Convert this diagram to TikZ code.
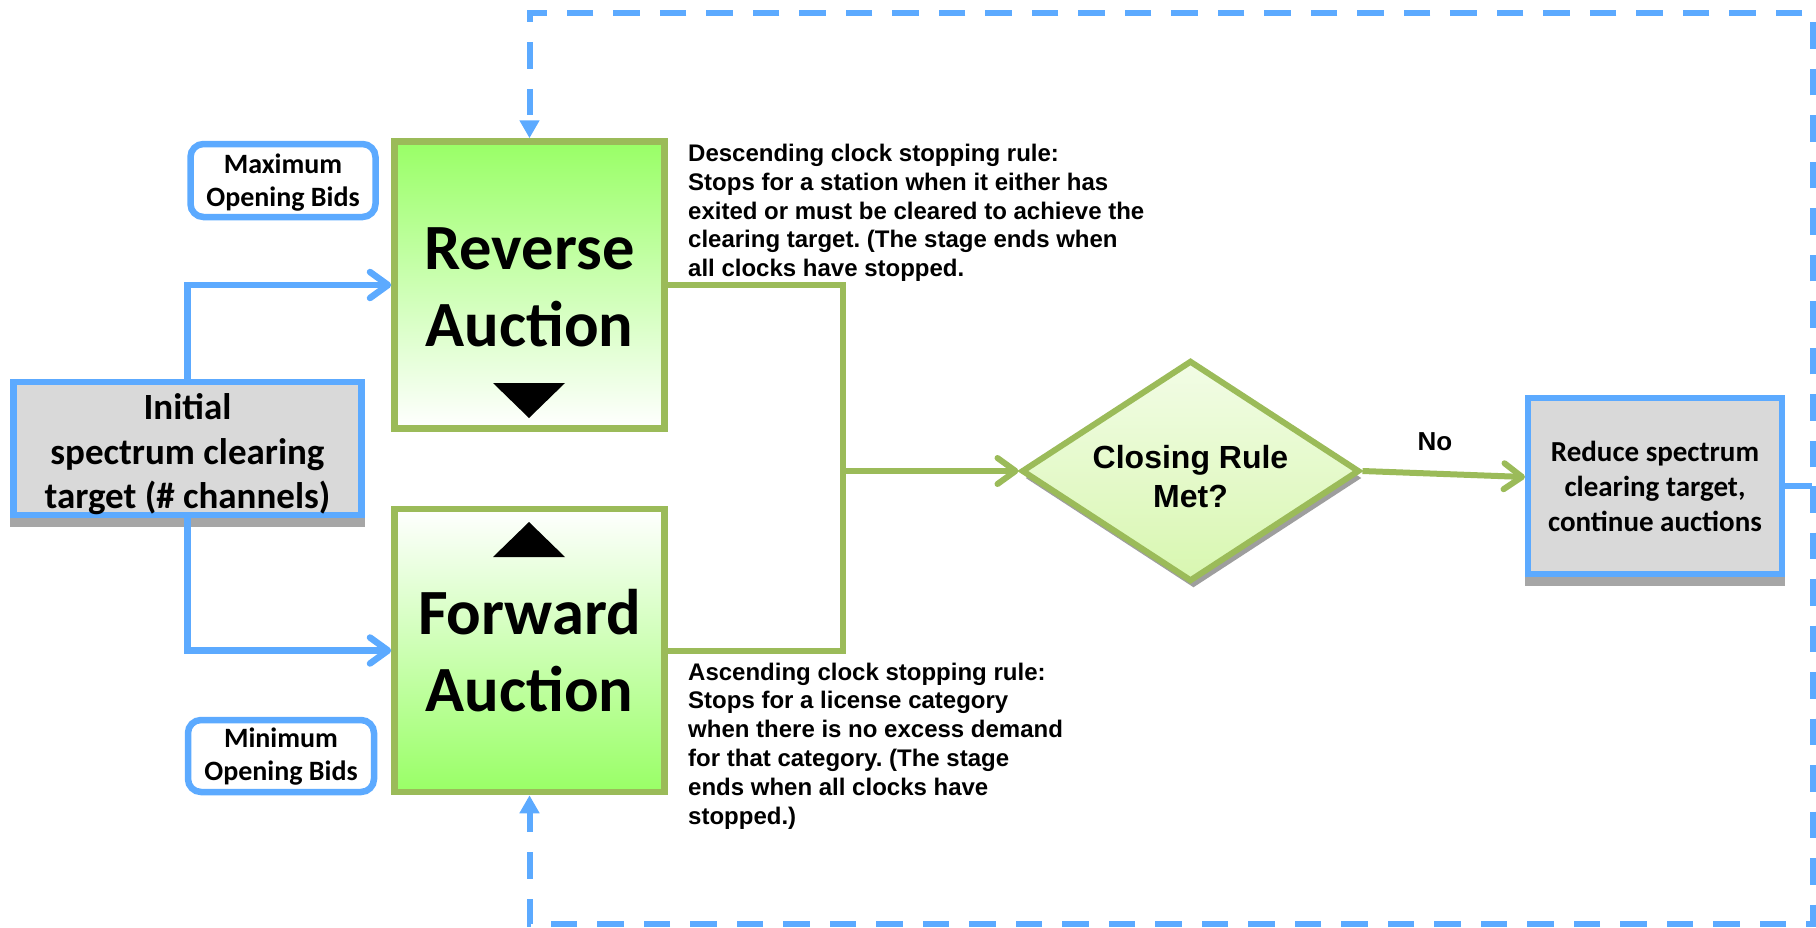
\documentclass[tikz,border=0pt]{standalone}
\usepackage{fontspec}
\setmainfont{Liberation Sans}
\newfontfamily\calfont{Carlito}
\usetikzlibrary{arrows.meta,shapes.geometric,shadows}
\frenchspacing

\definecolor{flowblue}{RGB}{92,170,255}
\definecolor{olivegreen}{RGB}{155,187,89}
\definecolor{limegreen}{RGB}{153,255,102}
\definecolor{boxgray}{RGB}{217,217,217}
\definecolor{diamtop}{RGB}{242,252,230}
\definecolor{diambot}{RGB}{216,247,176}

\begin{document}
\begin{tikzpicture}[x=1pt,y=-1pt,
  chev/.tip={Straight Barb[length=18pt,width=26pt,round]},
  looptip/.tip={Triangle[length=18pt,width=19pt]},
  blueline/.style={draw=flowblue,line width=6.5pt},
  greenline/.style={draw=olivegreen,line width=6pt},
  loopline/.style={draw=flowblue,line width=6pt,dash pattern=on 26.5pt off 20pt},
  auctionbox/.style={draw=olivegreen,line width=6.5pt,minimum width=270pt,
    minimum height=287pt,inner sep=0pt,align=center,
    font=\calfont\bfseries\fontsize{64.5}{77}\selectfont},
  graybox/.style={draw=flowblue,fill=boxgray,line width=6.5pt,inner sep=0pt,
    align=center,
    drop shadow={shadow xshift=0pt,shadow yshift=-9pt,fill=black!35,
      draw=black!35,line width=6.5pt,opacity=1}},
  bidbox/.style={draw=flowblue,fill=white,line width=6.5pt,rounded corners=13pt,
    inner sep=0pt,align=center,minimum height=72pt,
    font=\calfont\bfseries\fontsize{28}{33}\selectfont},
  note/.style={inner sep=0pt,anchor=north west,align=left,
    font=\bfseries\fontsize{24}{28.8}\selectfont},
]
\useasboundingbox (0,0) rectangle (1816,927);

% left-hand source box and the two bid boxes
\node[graybox,minimum width=348pt,minimum height=130pt,
  font=\calfont\bfseries\fontsize{37}{44.5}\selectfont]
  (init) at (187.5,448.5) {\rule{0pt}{38pt}Initial\\spectrum clearing\\target (\# channels)};
\node[bidbox,minimum width=185pt,minimum height=73pt] (maxbid) at (283,180.5)
  {\rule{0pt}{23pt}Maximum\\Opening Bids};
\node[bidbox,minimum width=186pt] (minbid) at (281,756)
  {\rule{0pt}{21pt}Minimum\\Opening Bids};

% the two auctions
\node[auctionbox,top color=limegreen,bottom color=white] (rev) at (529.5,285)
  {\rule{0pt}{46pt}Reverse\\Auction};
\node[auctionbox,minimum height=283pt,top color=white,bottom color=limegreen]
  (fwd) at (529.5,650.5) {Forward\\Auction};
\fill (493,383) -- (565,383) -- (529,418) -- cycle;
\fill (493,557) -- (565,557) -- (529,522) -- cycle;

% decision and follow-up step
\node[diamond,aspect=1.5,draw=olivegreen,line width=6pt,top color=diamtop,
  bottom color=diambot,minimum width=338pt,minimum height=221pt,inner sep=0pt,
  align=center,font=\bfseries\fontsize{32}{39}\selectfont,
  drop shadow={shadow xshift=3pt,shadow yshift=-7pt,fill=black!38,opacity=1}]
  (dia) at (1190.5,471) {\rule{0pt}{34pt}Closing Rule\\Met?};
\node[graybox,minimum width=254pt,minimum height=176pt,
  font=\calfont\bfseries\fontsize{29}{35}\selectfont]
  (reduce) at (1655,486) {Reduce spectrum\\clearing target,\\continue auctions};

% stopping-rule notes
\node[note] (desc) at (688,144)
  {Descending clock stopping rule:\\
   Stops for a station when it either has\\
   exited or must be cleared to achieve the\\
   clearing target. (The stage ends when\\
   all clocks have stopped.};
\node[note] (asc) at (688,662.5)
  {Ascending clock stopping rule:\\
   Stops for a license category\\
   when there is no excess demand\\
   for that category. (The stage\\
   ends when all clocks have\\
   stopped.)};

% blue feeds into the auctions
\draw[blueline,-chev] (init.north) |- (rev.west);
\draw[blueline,-chev] (init.south) |- (fwd.west);

% green merge into the decision
\coordinate (jt) at (843,285);
\coordinate (jb) at (843,650.5);
\draw[greenline] (rev.east) -- (jt) -- (jb) -- (fwd.east);
\draw[greenline,-chev] (jt |- dia.west) -- (dia.west);
\coordinate (rin) at (1525,477);
\draw[greenline,-chev] (dia.east) -- (rin);
\node[font=\bfseries\fontsize{26}{30}\selectfont,anchor=base] (no) at (1435,450) {No};

% dashed feedback loop
\coordinate (jr) at (1813,486);
\coordinate (ctop) at (1813,13);
\coordinate (cbot) at (1813,924);
\draw[loopline,-looptip] (reduce.east) -- (jr) -- (ctop) -- (ctop -| rev.north) -- (rev.north);
\draw[loopline,-looptip] (jr) -- (cbot) -- (cbot -| fwd.south) -- (fwd.south);
\end{tikzpicture}
\end{document}
